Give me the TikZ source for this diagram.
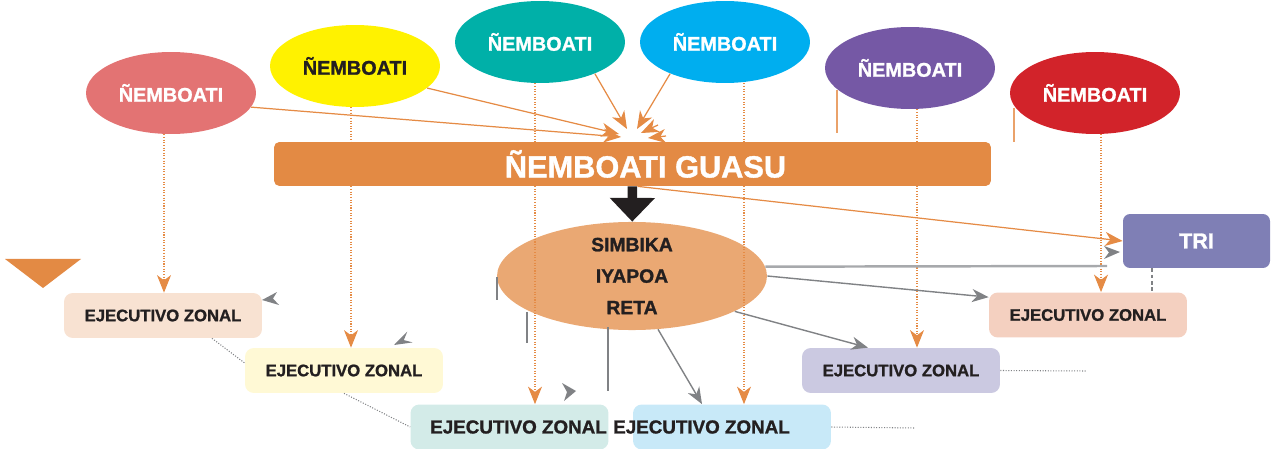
\documentclass[tikz,border=0pt]{standalone}
\usepackage{fontspec}
\setmainfont{Liberation Sans}[BoldFeatures={FakeBold=1.2}]
\usepackage{xcolor}
\usepackage{tikz}
\usetikzlibrary{arrows.meta, positioning, shapes.geometric}

\definecolor{ideared}{HTML}{E37373}
\definecolor{ideayellow}{HTML}{FFF200}
\definecolor{ideateal}{HTML}{00B0A8}
\definecolor{ideacyan}{HTML}{00AEEF}
\definecolor{ideapurple}{HTML}{7558A5}
\definecolor{ideacrimson}{HTML}{D2232A}
\definecolor{guasu}{HTML}{E38A44}
\definecolor{simbika}{HTML}{EAA873}
\definecolor{trifill}{HTML}{7F7FB5}
\definecolor{zonA}{HTML}{F8E2D2}
\definecolor{zonB}{HTML}{FFF9D5}
\definecolor{zonC}{HTML}{D3EBE8}
\definecolor{zonD}{HTML}{C8E9F8}
\definecolor{zonE}{HTML}{CBC9E1}
\definecolor{zonF}{HTML}{F4D0C0}
\definecolor{ink}{HTML}{231F20}
\definecolor{lineorange}{HTML}{E58B45}
\definecolor{arrowgray}{HTML}{808285}
\definecolor{rulegray}{HTML}{A7A9AC}

\begin{document}
\begin{tikzpicture}[
    x=0.02cm,
    y=-0.02cm,
    idea/.style={
        ellipse,
        inner sep=0pt,
        minimum width=3.4cm,
        minimum height=1.64cm,
        text=white,
        font=\fontsize{11.3}{13}\selectfont\bfseries
    },
    zonal/.style={
        rectangle,
        rounded corners=5pt,
        inner sep=0pt,
        minimum width=3.96cm,
        minimum height=0.9cm,
        text=ink,
        font=\fontsize{9.5}{11}\selectfont\bfseries
    },
    bigzonal/.style={
        text=ink,
        font=\fontsize{10.7}{12}\selectfont\bfseries
    },
    feed/.style={
        -{Stealth[length=10pt, width=8pt, inset=3pt]},
        draw=lineorange,
        line width=0.7pt
    },
    drop/.style={
        feed,
        dash pattern=on 0.6pt off 0.9pt
    },
    gfeed/.style={
        -{Stealth[length=9.5pt, width=7.5pt, inset=3pt]},
        draw=arrowgray,
        line width=0.8pt
    },
    zlink/.style={
        draw=arrowgray,
        line width=0.6pt,
        dash pattern=on 0.6pt off 0.9pt
    },
    bigarrow/.style={
        -{Triangle[length=13.5pt, width=25pt]},
        draw=ink,
        line width=5.4pt
    }
]
\useasboundingbox (0,0) rectangle (1271,449);

% middle ellipse, boxes and TRI
\node[ellipse, fill=simbika, inner sep=0pt, minimum width=5.4cm, minimum height=1.96cm,
      text=ink, align=center, font=\fontsize{11}{17.9}\selectfont\bfseries]
      (simb) at (632,276) {SIMBIKA\\IYAPOA\\RETA};
\node[rectangle, rounded corners=4pt, fill=trifill, minimum width=2.94cm, minimum height=1.08cm,
      text=white, font=\fontsize{12.3}{14}\selectfont\bfseries] (tri) at (1196.5,241) {TRI};

\node[zonal, fill=zonA] (ez1) at (163,315.5) {EJECUTIVO ZONAL};
\node[zonal, fill=zonB] (ez2) at (344,370.5) {EJECUTIVO ZONAL};
\node[zonal, fill=zonC, label={[bigzonal, xshift=0.18cm]center:EJECUTIVO ZONAL}] (ez3) at (509.5,427) {};
\node[zonal, fill=zonD, label={[bigzonal, xshift=-0.61cm]center:EJECUTIVO ZONAL}] (ez4) at (732,427) {};
\node[zonal, fill=zonE] (ez5) at (901,370.5) {EJECUTIVO ZONAL};
\node[zonal, fill=zonF] (ez6) at (1088,315) {EJECUTIVO ZONAL};

% the six ÑEMBOATI
\node[idea, fill=ideared] (e1) at (171,93) {ÑEMBOATI};
\node[idea, fill=ideayellow, text=ink] (e2) at (355,66) {ÑEMBOATI};
\node[idea, fill=ideateal] (e3) at (540,42) {ÑEMBOATI};
\node[idea, fill=ideacyan] (e4) at (725,42) {ÑEMBOATI};
\node[idea, fill=ideapurple] (e5) at (910,68) {ÑEMBOATI};
\node[idea, fill=ideacrimson] (e6) at (1095,93) {ÑEMBOATI};

\fill[guasu] (5,259) -- (81,259) -- (43,288) -- cycle;

% dotted drops to each zone
\draw[drop] ([xshift=-0.14cm]e1.south) -- ([xshift=-0.14cm]e1.south |- ez1.north);
\draw[drop] ([xshift=-0.08cm]e2.south) -- ([xshift=-0.08cm]e2.south |- ez2.north);
\draw[drop] ([xshift=-0.1cm]e3.south) -- ([xshift=-0.1cm]e3.south |- ez3.north);
\draw[drop] ([xshift=0.38cm]e4.south) -- ([xshift=0.38cm]e4.south |- ez4.north);
\draw[drop] ([xshift=0.14cm]e5.south) -- ([xshift=0.14cm]e5.south |- ez5.north);
\draw[drop] ([xshift=0.12cm]e6.south) -- ([xshift=0.12cm]e6.south |- ez6.north);

% converging lines
\coordinate (hubA) at (621,137);
\coordinate (hubB) at (619,134);
\coordinate (hubC) at (627,129);
\coordinate (hubD) at (637,129);
\draw[feed] (e1.-10) -- (hubA);
\draw[feed] (e2.-17) -- (hubB);
\draw[feed] (e3.-30) -- (hubC);
\draw[feed] (e4.-150) -- (hubD);
\draw[feed] (658,125) -- (641,133);
\draw[feed] (666,136) -- (648,138);
\draw[lineorange!80, line width=0.7pt] (837,90) -- (837,133);
\draw[lineorange!80, line width=0.7pt] (1014,108) -- (1014,142);

% bar
\node[rectangle, rounded corners=3pt, fill=guasu, minimum width=14.34cm, minimum height=0.88cm,
      label={[text=white, font=\fontsize{17.5}{20}\selectfont\bfseries, xshift=0.26cm]center:ÑEMBOATI GUASU}]
      (guasu) at (632.5,164) {};
\draw[bigarrow] (guasu) -- (simb);
\draw[feed] ([xshift=0.1cm]guasu.south) -- (tri.west);

% gray links from SIMBIKA
\coordinate (grayend) at (1107,266);
\draw[rulegray, line width=1.4pt] (simb.4) -- (grayend);
\draw[gfeed] (simb.east) -- ([yshift=-0.1cm]ez6.north west);
\draw[gfeed] (simb.-19) -- ([xshift=-0.66cm]ez5.north);
\draw[gfeed] (simb.-64) -- ([xshift=-0.6cm]ez4.north);
\draw[arrowgray, line width=0.8pt] (497,277) -- (497,300);
\draw[arrowgray, line width=0.8pt] (527,312) -- (527,343);
\draw[arrowgray, line width=0.8pt] (608,327) -- (608,391);

% loose gray heads
\fill[arrowgray] (262,300) -- (279,305) -- (273,298.5) -- (277,292) -- cycle;
\fill[arrowgray] (394,345) -- (412.7,342.4) -- (403.8,340.1) -- (407.3,331.6) -- cycle;
\fill[arrowgray] (576,391) -- (562,383) -- (567,392) -- (564,401) -- cycle;
\fill[arrowgray] (1120,252) -- (1104,246) -- (1109,252.5) -- (1104,259) -- cycle;

% dotted ties between zones
\draw[zlink] ([xshift=0.98cm]ez1.south) -- ([yshift=0.15cm]ez2.west);
\draw[zlink] (ez2.south) -- (ez3.west);
\coordinate (ez4tail) at (915,428);
\coordinate (ez5tail) at (1087,371);
\draw[zlink] (ez4.east) -- (ez4tail);
\draw[zlink] (ez5.east) -- (ez5tail);
\draw[draw=arrowgray, line width=1.6pt, dash pattern=on 2pt off 1.6pt]
    ([xshift=-0.89cm]tri.south) -- ([xshift=-0.89cm]tri.south |- ez6.north);

\end{tikzpicture}
\end{document}
